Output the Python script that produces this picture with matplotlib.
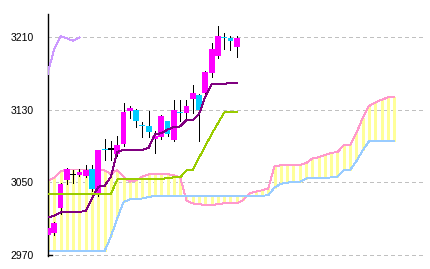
import numpy as np
import matplotlib
matplotlib.use("Agg")
import matplotlib.pyplot as plt

# ---- data ----
opens  = [2991.5, 2994, 3021, 3052, 3057.5, 3058, 3057, 3064.5, 3037, 3086, 3086,
          3081, 3092, 3129, 3130, 3113, 3112, 3098, 3100, 3117, 3097, 3126.5, 3126,
          3141.5, 3146, 3149, 3170, 3189, 3210.5, 3209.5, 3199.6]
closes = [2999, 3005, 3048, 3065, 3057.5, 3061, 3063, 3042, 3085, 3085, 3086,
          3091, 3128, 3132, 3117, 3112, 3105, 3101, 3123, 3103, 3130, 3126, 3134,
          3149, 3130, 3172, 3197, 3211, 3209, 3206, 3209.6]
highs  = [3000, 3006, 3049, 3066, 3063, 3065, 3069, 3069, 3086, 3098, 3096,
          3101, 3137, 3134, 3131, 3116, 3129, 3106, 3124, 3118, 3141, 3141, 3141,
          3157, 3147, 3173, 3204, 3222, 3214.5, 3211.5, 3211.5]
lows   = [2990, 2992, 3015, 3048, 3049, 3057, 3056, 3040, 3035, 3075, 3075,
          3079, 3090, 3121, 3111, 3100, 3100, 3082, 3098, 3101, 3095, 3117, 3118,
          3126, 3096, 3147, 3166, 3187, 3197, 3196, 3188.6]

tenkan = [3011, 3013, 3016.5, 3017.3, 3017.3, 3017.3, 3018, 3032.5, 3045, 3046, 3056,
          3083.6, 3085.5, 3085.5, 3085.5, 3085.5, 3088, 3103, 3104, 3108, 3111, 3111.5,
          3118.6, 3118.6, 3125, 3144.4, 3158, 3158.4, 3158.4, 3159.8, 3159.8]
kijun  = [3037, 3037, 3037, 3037, 3037, 3037, 3037, 3037, 3037, 3037, 3037,
          3053, 3053.5, 3053.5, 3053.5, 3053.5, 3053.5, 3053.5, 3053.5, 3054.5, 3055.3, 3055.3,
          3063, 3063.4, 3077, 3090, 3103, 3115, 3127, 3127, 3127]

senkou_a = [3051.5, 3055, 3062, 3064, 3064, 3064, 3064, 3064, 3064, 3063, 3059,
            3063.4, 3056, 3050.5, 3052, 3056, 3058.6, 3059, 3059, 3059, 3057.5, 3055.5,
            3030, 3026.5, 3025.8, 3024.7, 3024.7, 3025.8, 3026.7, 3026.7, 3026.7, 3030,
            3037.5, 3039.5, 3041, 3043, 3068, 3068.5, 3068.5, 3068.5, 3069, 3071,
            3076, 3077.5, 3080, 3082.5, 3083, 3091, 3091, 3104, 3121, 3134,
            3138, 3141, 3143.5, 3144]
senkou_b = [2974, 2974, 2974, 2974, 2974, 2974, 2974, 2974, 2974, 2974, 2990,
            3010, 3028, 3031, 3031, 3032, 3033.5, 3035, 3035, 3035, 3035, 3035,
            3035, 3035, 3035, 3035, 3035, 3035, 3035, 3035, 3035, 3035,
            3035, 3035, 3035, 3035.5, 3044, 3048.2, 3049.5, 3050, 3050, 3054,
            3054.5, 3054.5, 3054.5, 3055.3, 3056, 3063.4, 3063.4, 3073, 3085, 3095,
            3095.4, 3095.4, 3095.4, 3095.4]

chikou_shift = 25
ytick_values = [2970, 3050, 3130, 3210]
ytick_labels = ["2970", "3050", "3130", "3210"]

# ---- figure ----
W, H = 430, 269
fig = plt.figure(figsize=(W / 100, H / 100), dpi=100)
ax = fig.add_axes([48 / W, 1 - 255.5 / H, (424 - 48) / W, (255.5 - 14) / H])
ax.set_xlim(0, 59.75)
ax.set_ylim(2969, 3235.7)

px = 0.72  # one pixel in points
lw1 = 0.95 * px

# cloud
xs = np.arange(len(senkou_a))
ax.vlines(xs, senkou_a, senkou_b, colors="#ffff99", linewidth=1.2 * px,
          antialiased=False, zorder=1)
ax.plot(xs, senkou_a, color="#ff99cc", lw=lw1, antialiased=False, zorder=2)
ax.plot(xs, senkou_b, color="#99ccff", lw=lw1, antialiased=False, zorder=2)

# candles
xc = np.arange(len(closes))
o = np.array(opens); c = np.array(closes)
ax.vlines(xc, lows, highs, colors="black", linewidth=lw1,
          antialiased=False, zorder=3)
cols = np.where(c > o, "#ff00ff", np.where(c < o, "#00ccff", "black"))
bottoms = np.minimum(o, c)
heights = np.maximum(np.abs(c - o), 1.2)
ax.bar(xc, heights, bottom=bottoms, width=0.92, color=cols, linewidth=0,
       antialiased=False, zorder=4)

# lines
ax.plot(xc, tenkan, color="#800080", lw=lw1, antialiased=False, zorder=5)
ax.plot(xc, kijun, color="#99cc00", lw=lw1, antialiased=False, zorder=5)
ax.plot(xc - chikou_shift, closes, color="#cc99ff", lw=lw1,
        antialiased=False, zorder=5)

# axes styling
for s in ["top", "right", "bottom"]:
    ax.spines[s].set_visible(False)
ax.spines["left"].set_color("black")
ax.spines["left"].set_linewidth(1.0)
ax.set_xticks([])
ax.set_yticks(ytick_values)
ax.set_yticklabels(ytick_labels, fontfamily="Liberation Sans", fontsize=7.5)
ax.tick_params(axis="y", length=0, pad=10.5)
ax.yaxis.grid(True, color="#c0c0c0", linestyle=(0, (3, 3)), linewidth=px,
              antialiased=False)
ax.set_axisbelow(True)
ax.plot([0, 0.01], [0.004, 0.004], transform=ax.transAxes, color="black",
        lw=1.0, clip_on=False)

fig.savefig("out.png", dpi=100)
